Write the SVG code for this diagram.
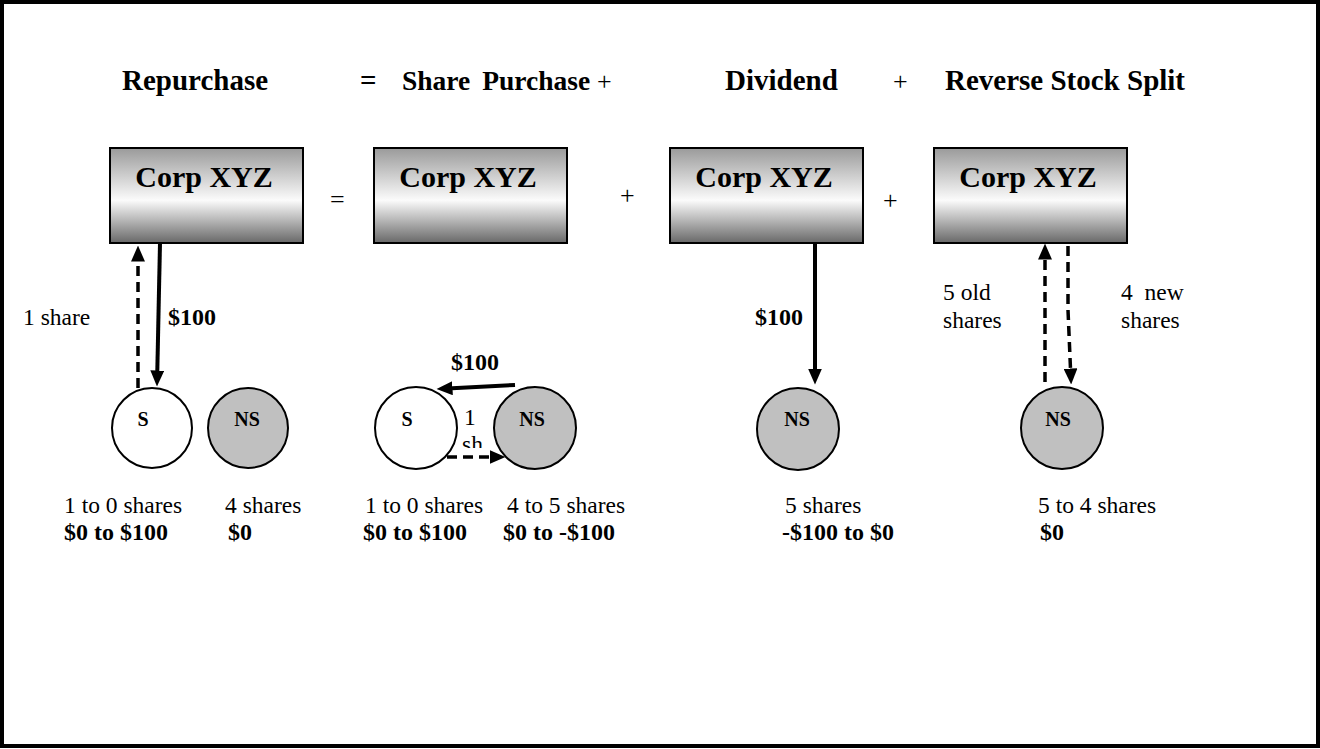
<svg xmlns="http://www.w3.org/2000/svg" width="1320" height="749" viewBox="0 0 1320 749">
<style>
text{font-family:"Liberation Serif","Times New Roman",serif;fill:#000}
.title{font-size:29px;font-weight:bold}
.op{font-size:26px}
.corp{font-size:30px;font-weight:bold;text-anchor:middle}
.box{fill:url(#g);stroke:#000;stroke-width:2}
.lbl{font-size:23.5px}
.bl{font-size:24px;font-weight:bold}
.cl{font-size:20px;font-weight:bold;text-anchor:middle}
.cw{fill:#fff;stroke:#000;stroke-width:2}
.cg{fill:#c0c0c0;stroke:#000;stroke-width:2}
.solid{fill:none;stroke:#000;stroke-width:4;marker-end:url(#ah)}
.dash{fill:none;stroke:#000;stroke-width:3.5;stroke-dasharray:10 6;marker-end:url(#ah)}
</style>
<defs>
<linearGradient id="g" x1="0" y1="0" x2="0" y2="1">
<stop offset="0" stop-color="#9a9a9a"/>
<stop offset="0.55" stop-color="#fbfbfb"/>
<stop offset="1" stop-color="#686868"/>
</linearGradient>
<marker id="ah" viewBox="0 0 16 14" refX="0.5" refY="7" markerWidth="16" markerHeight="14" markerUnits="userSpaceOnUse" orient="auto">
<path d="M0,0 L16,7 L0,14 z" fill="#000"/>
</marker>
<clipPath id="shclip"><rect x="455" y="430" width="40" height="18"/></clipPath>
</defs>
<rect x="0" y="0" width="1320" height="749" fill="#fff"/>
<rect x="2" y="2" width="1316" height="744" fill="none" stroke="#000" stroke-width="4"/>

<g id="title">
<text class="title" x="122" y="90">Repurchase</text>
<text class="title" x="360" y="90">=</text>
<text class="title" x="402" y="90" style="font-size:27.5px;word-spacing:5px">Share Purchase</text>
<text class="op" x="597" y="90">+</text>
<text class="title" x="725" y="90">Dividend</text>
<text class="op" x="893" y="90">+</text>
<text class="title" x="945" y="90">Reverse Stock Split</text>
</g>

<g id="ops">
<text class="op" x="330" y="208">=</text>
<text class="op" x="620" y="204">+</text>
<text class="op" x="883" y="209">+</text>
</g>

<g id="corp1"><rect class="box" x="110" y="148" width="193" height="95"/><text class="corp" x="204" y="187">Corp XYZ</text></g>
<g id="corp2"><rect class="box" x="374" y="148" width="193" height="95"/><text class="corp" x="468" y="187">Corp XYZ</text></g>
<g id="corp3"><rect class="box" x="670" y="148" width="193" height="95"/><text class="corp" x="764" y="187">Corp XYZ</text></g>
<g id="corp4"><rect class="box" x="934" y="148" width="193" height="95"/><text class="corp" x="1028" y="187">Corp XYZ</text></g>

<g id="s1"><circle class="cw" cx="152" cy="428" r="40"/><text class="cl" x="143" y="426">S</text></g>
<g id="ns1"><circle class="cg" cx="248" cy="428" r="40"/><text class="cl" x="247" y="426">NS</text></g>
<g id="s2"><circle class="cw" cx="416" cy="428" r="41"/><text class="cl" x="407" y="426">S</text></g>
<g id="ns2"><circle class="cg" cx="535" cy="428" r="41"/><text class="cl" x="532" y="426">NS</text></g>
<g id="ns3"><circle class="cg" cx="798" cy="429" r="41"/><text class="cl" x="797" y="426">NS</text></g>
<g id="ns4"><circle class="cg" cx="1062" cy="428" r="41"/><text class="cl" x="1058" y="426">NS</text></g>

<g id="connectors">
<path class="dash" d="M138,388 L138,261"/>
<path class="solid" d="M160,243 L157.3,371"/>
<path class="solid" d="M515,385 L452,388.2"/>
<path class="dash" d="M447,457 L490,457"/>
<path class="solid" d="M815,243 L815,369"/>
<path class="dash" d="M1045,382 L1045,259"/>
<path class="dash" d="M1068,246 L1068,310 L1070.5,369"/>
</g>

<g id="labels">
<text class="lbl" x="23" y="325">1 share</text>
<text class="bl" x="168" y="325">$100</text>
<text class="bl" x="451" y="370">$100</text>
<text class="lbl" x="464" y="425">1</text>
<text class="lbl" x="462" y="452" clip-path="url(#shclip)">sh</text>
<text class="bl" x="755" y="325">$100</text>
<text class="lbl" x="943" y="300">5 old</text>
<text class="lbl" x="943" y="328">shares</text>
<text class="lbl" x="1121" y="300" xml:space="preserve">4  new</text>
<text class="lbl" x="1121" y="328">shares</text>

<text class="lbl" x="64" y="513">1 to 0 shares</text>
<text class="lbl" x="225" y="513">4 shares</text>
<text class="bl" x="64" y="540">$0 to $100</text>
<text class="bl" x="228" y="540">$0</text>

<text class="lbl" x="365" y="513">1 to 0 shares</text>
<text class="lbl" x="507" y="513">4 to 5 shares</text>
<text class="bl" x="363" y="540">$0 to $100</text>
<text class="bl" x="503" y="540">$0 to -$100</text>

<text class="lbl" x="785" y="513">5 shares</text>
<text class="bl" x="782" y="540">-$100 to $0</text>

<text class="lbl" x="1038" y="513">5 to 4 shares</text>
<text class="bl" x="1040" y="540">$0</text>
</g>
</svg>
